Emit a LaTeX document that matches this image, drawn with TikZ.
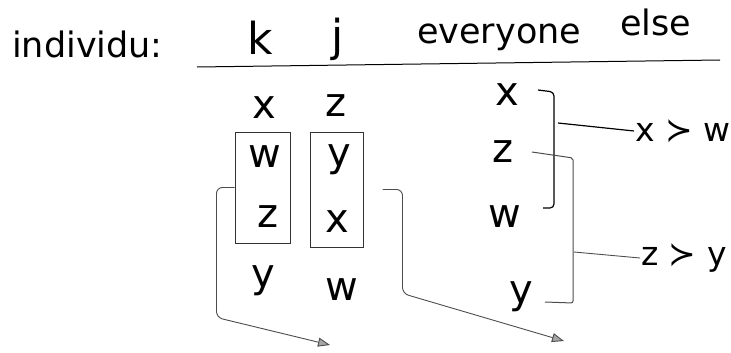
\documentclass[tikz,border=0pt]{standalone}
\usepackage{fontspec}
\setmainfont{DejaVu Sans}
\usetikzlibrary{arrows.meta}
\begin{document}
\begin{tikzpicture}[x=1pt,y=-1pt,
  lt/.style={font=\fontsize{40}{44}\selectfont, inner sep=0pt, anchor=base},
  hd/.style={font=\fontsize{35}{40}\selectfont, inner sep=0pt, anchor=base west},
  big/.style={font=\fontsize{44}{48}\selectfont, inner sep=0pt, anchor=base},
  lab/.style={font=\fontsize{33}{38}\selectfont, inner sep=1pt, anchor=west},
  box/.style={draw=black!80, line width=1pt, inner sep=0pt},
  conn/.style={line width=0.9pt, draw=black!70, rounded corners=6pt},
  bk/.style={line width=1.2pt, draw=black, rounded corners=4pt},
  tip/.style={-{Triangle[length=12pt,width=9pt,fill=black!35,line width=0.9pt]}}
]
\useasboundingbox (0,0) rectangle (731,353);

% header
\node[hd] (hind) at (12,58) {individu:};
\node[big] (hk) at (260,55) {k};
\node[big] (hj) at (338,52) {j};
\node[hd] (hev) at (417,44) {everyone};
\node[hd] (hel) at (620,36) {else};
\coordinate (ulA) at (197,67);
\coordinate (ulB) at (720,60);
\draw[line width=1pt] (ulA) -- (ulB);

% column k
\node[lt] (k1) at (264,118) {x};
\node[lt] (k2) at (265,167) {w};
\node[lt] (k3) at (268,227) {z};
\node[lt] (k4) at (263,287) {y};
% column j
\node[lt] (j1) at (336,117) {z};
\node[lt] (j2) at (339,166) {y};
\node[lt] (j3) at (337,232) {x};
\node[lt] (j4) at (342,300) {w};
% everyone else
\node[lt] (e1) at (507,105) {x};
\node[lt] (e2) at (503,162) {z};
\node[lt] (e3) at (505,227) {w};
\node[lt] (e4) at (521,303) {y};

% boxes
\node[box, minimum width=55pt, minimum height=111pt] (boxk) at (262.5,187.5) {};
\node[box, minimum width=53pt, minimum height=115pt] (boxj) at (336.5,189.5) {};

% arrows from the boxes
\coordinate (tk) at (330,345);
\coordinate (tj) at (564,341);
\draw[conn, tip] (boxk.west) -- ++(-18,0) -- ++(0,130) -- (tk);
\draw[conn, tip] ([xshift=19pt]boxj.east) -- ++(20,0) -- ++(0,104) -- (tj);

% brackets
\coordinate (b1a) at (538,90);
\coordinate (b1b) at (554,92);
\coordinate (b1c) at (554,208);
\coordinate (b1d) at (543,208);
\draw[bk] (b1a) -- (b1b) -- (b1c) -- (b1d);
\coordinate (b2a) at (532,152);
\coordinate (b2b) at (573,158);
\coordinate (b2c) at (573,303);
\coordinate (b2d) at (545,302);
\draw[conn, line width=1pt, rounded corners=2pt] (b2a) -- (b2b) -- (b2c) -- (b2d);

% results
\node[lab] (xw) at (634,131) {x ≻ w};
\node[lab] (zy) at (640,258) {z ≻ y};
\coordinate (s1) at (558,123);
\coordinate (s2) at (574,252);
\draw[line width=1.2pt] (s1) -- (xw.west);
\draw[line width=0.9pt, black!70] (s2) -- (zy.west);
\end{tikzpicture}
\end{document}
